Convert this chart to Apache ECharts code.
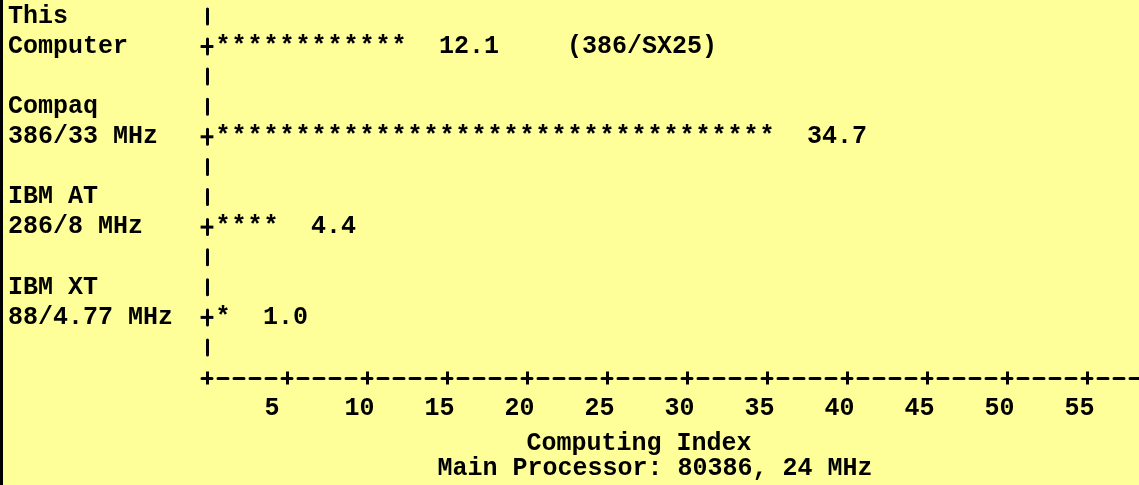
<!DOCTYPE html>
<html>
<head>
<meta charset="utf-8">
<title>Computing Index</title>
<script src="https://cdn.jsdelivr.net/npm/echarts@6/dist/echarts.min.js"></script>
<style>
  html, body { margin: 0; padding: 0; }
  #main { width: 1139px; height: 485px; background: #ffff99; box-shadow: inset 3px 0 0 #000; }
</style>
</head>
<body>
<div id="main"></div>
<script>
// machines: first and second line of each label
const nameTop = ['This', 'Compaq', 'IBM AT', 'IBM XT']
const nameBottom = ['Computer', '386/33 MHz', '286/8 MHz', '88/4.77 MHz']
const indexValues = [12.1, 34.7, 4.4, 1.0]
const notes = ['(386/SX25)', '', '', '']

const tickValues = [0, 5, 10, 15, 20, 25, 30, 35, 40, 45, 50, 55]
const labelValues = [5, 10, 15, 20, 25, 30, 35, 40, 45, 50, 55]

const FAMILY = '"Courier New", "Liberation Mono", monospace'
const FONT = 'bold 25px ' + FAMILY
// empty third line keeps the second line level with the bar
const categories = nameTop.map((t, i) => t + '\n' + nameBottom[i] + '\n ')

var myChart = echarts.init(document.getElementById('main'))

function txt(x, y, text, align) {
  return {
    type: 'text',
    x: x,
    y: y,
    style: { text: text, font: FONT, fill: '#000', align: align, verticalAlign: 'middle' },
  }
}

let option = {
  animation: false,
  grid: { left: 199, right: 0, top: 1.35, height: 361.2 },
  xAxis: [
    {
      type: 'value',
      min: -0.5,
      max: 58.25,
      position: 'bottom',
      offset: 15.5,
      axisLine: {
        show: true,
        lineStyle: { color: '#000', width: 3, type: [10, 6], dashOffset: 13 },
      },
      axisTick: {
        show: true,
        customValues: tickValues,
        length: 6.5,
        lineStyle: { color: '#000', width: 3 },
      },
      axisLabel: {
        customValues: labelValues,
        // labels sit right-aligned on the tick column, like the text original
        formatter: (v) => v + (v < 10 ? '  ' : ' '),
        color: '#000',
        fontFamily: FAMILY,
        fontWeight: 'bold',
        fontSize: 25,
        lineHeight: 30,
        margin: 16,
      },
      splitLine: { show: false },
      name: 'Computing Index',
      nameLocation: 'middle',
      nameGap: 44,
      nameTextStyle: {
        color: '#000',
        fontFamily: FAMILY,
        fontWeight: 'bold',
        fontSize: 25,
        lineHeight: 30,
        padding: [0, 60, 0, 0],
      },
    },
    {
      // second axis only for the upper half of each '+'
      type: 'value',
      min: -0.5,
      max: 58.25,
      position: 'bottom',
      offset: 15.5,
      axisLine: { show: false },
      axisTick: {
        show: true,
        inside: true,
        customValues: tickValues,
        length: 6.5,
        lineStyle: { color: '#000', width: 3 },
      },
      axisLabel: { show: false },
      splitLine: { show: false },
    },
  ],
  yAxis: {
    type: 'category',
    inverse: true,
    data: categories,
    offset: -8,
    axisLine: {
      show: true,
      lineStyle: { color: '#000', width: 3, type: [15, 15.1], dashOffset: 22.55 },
    },
    axisTick: { show: false },
    axisLabel: {
      align: 'left',
      margin: 199,
      verticalAlign: 'middle',
      lineHeight: 30.1,
      color: '#000',
      fontFamily: FAMILY,
      fontWeight: 'bold',
      fontSize: 25,
    },
    splitLine: { show: false },
  },
  graphic: [
    {
      type: 'text',
      x: 655,
      y: 469,
      style: {
        text: 'Main Processor: 80386, 24 MHz',
        font: FONT,
        fill: '#000',
        align: 'center',
        verticalAlign: 'middle',
      },
    },
  ],
  series: [
    {
      type: 'custom',
      xAxisIndex: 0,
      yAxisIndex: 0,
      encode: { x: 0, y: 1 },
      data: indexValues.map((v, i) => [v, i]),
      renderItem: function (params, api) {
        const i = params.dataIndex
        const v = api.value(0)
        const cat = api.value(1)
        const n = Math.round(v)
        const children = []
        // horizontal stroke of the '+' where the bar starts
        const l = api.coord([-0.4, cat])
        const r = api.coord([0.4, cat])
        children.push({
          type: 'line',
          shape: { x1: l[0], y1: l[1], x2: r[0], y2: r[1] },
          style: { stroke: '#000', lineWidth: 3 },
        })
        for (let k = 1; k <= n; k++) {
          const p = api.coord([k, cat])
          children.push(txt(p[0], p[1], '*', 'center'))
        }
        const label = v.toFixed(1)
        const lp = api.coord([n + 2.5, cat])
        children.push(txt(lp[0], lp[1], label, 'left'))
        if (notes[i]) {
          const np = api.coord([n + 2.5 + label.length + 4, cat])
          children.push(txt(np[0], np[1], notes[i], 'left'))
        }
        return { type: 'group', children: children }
      },
    },
  ],
}
myChart.setOption(option)
</script>
</body>
</html>
